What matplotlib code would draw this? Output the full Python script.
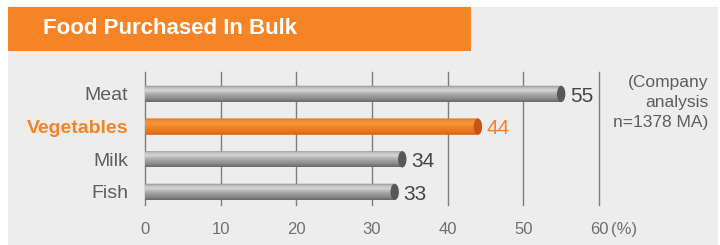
import numpy as np
import matplotlib
matplotlib.use("Agg")
import matplotlib.pyplot as plt
from matplotlib.colors import LinearSegmentedColormap
from matplotlib.patches import Rectangle, Ellipse, PathPatch
from matplotlib.path import Path

plt.rcParams['font.family'] = ['Liberation Sans', 'DejaVu Sans']

# ---- data ----
title = "Food Purchased In Bulk"
categories = ["Meat", "Vegetables", "Milk", "Fish"]
values = [55, 44, 34, 33]
highlight = [False, True, False, False]
xticks = [0, 10, 20, 30, 40, 50, 60]
xtick_labels = ["0", "10", "20", "30", "40", "50", "60"]
unit_label = "(%)"
note = "(Company\nanalysis\nn=1378 MA)"

# ---- styles ----
W, H = 720, 245
ORANGE = "#f58426"
PANEL = "#ededed"
GRAY_TXT = "#5e5e5e"
VAL_TXT = "#454545"
TICK_TXT = "#707070"
GRID = "#7e7e7e"

gray_cmap = LinearSegmentedColormap.from_list("g", [
    (0.0, "#7a7a7a"), (0.12, "#b8b8b8"), (0.3, "#d6d6d6"),
    (0.55, "#a9a9a9"), (0.8, "#8c8c8c"), (1.0, "#686868")])
orange_cmap = LinearSegmentedColormap.from_list("o", [
    (0.0, "#dd6a18"), (0.12, "#f08a30"), (0.3, "#f5963c"),
    (0.55, "#f08224"), (0.8, "#e8761c"), (1.0, "#d06014")])
GRAY_CAP = "#58585a"
ORANGE_CAP = "#c9521a"

fig = plt.figure(figsize=(W / 100, H / 100), dpi=100)
fig.patch.set_facecolor("white")

# panel and header
fig.patches.append(Rectangle((8 / W, 0), (718 - 8) / W, (H - 7) / H,
                             transform=fig.transFigure, facecolor=PANEL,
                             edgecolor="none", zorder=-3))
fig.patches.append(Rectangle((8 / W, (H - 51) / H), (471 - 8) / W, 44 / H,
                             transform=fig.transFigure, facecolor=ORANGE,
                             edgecolor="none", zorder=-2))
fig.text(43 / W, (H - 29) / H, title, color="white", fontsize=16,
         fontweight="bold", va="center", ha="left")

# axes: x=0 at px 145, x=60 at px 599; top at 72, bottom at 205
ax = fig.add_axes([145 / W, (H - 205) / H, (599 - 145) / W, (205 - 72) / H])
ax.set_zorder(2)
ax.set_facecolor("none")
for s in ax.spines.values():
    s.set_visible(False)

n = len(categories)
ypos = np.arange(n)
bar_h = 0.5
px_per_unit = (599 - 145) / 60.0
rx = 4.2 / px_per_unit

for xt in xticks:
    ax.axvline(xt, color=GRID, linewidth=1.0, zorder=1, clip_on=False)

grad = np.linspace(0, 1, 64).reshape(-1, 1)
for i, (v, hl) in enumerate(zip(values, highlight)):
    yc = ypos[i]
    t = np.linspace(np.pi / 2, 3 * np.pi / 2, 30)
    xs = list(rx * np.cos(t)) + [v, v]
    ys = list(yc - (bar_h / 2) * np.sin(t)) + [yc + bar_h / 2, yc - bar_h / 2]
    verts = list(zip(xs, ys)) + [(xs[0], ys[0])]
    codes = [Path.MOVETO] + [Path.LINETO] * (len(verts) - 2) + [Path.CLOSEPOLY]
    clip = PathPatch(Path(verts, codes), facecolor="none", edgecolor="none",
                     transform=ax.transData)
    ax.add_patch(clip)
    im = ax.imshow(grad, extent=[-rx, v, yc + bar_h / 2, yc - bar_h / 2],
                   origin="upper", aspect="auto",
                   cmap=orange_cmap if hl else gray_cmap, zorder=3,
                   interpolation="bilinear")
    im.set_clip_path(clip)
    ax.add_patch(Ellipse((v, yc), 2 * rx, bar_h,
                         facecolor=ORANGE_CAP if hl else GRAY_CAP,
                         edgecolor="none", zorder=4))
    ax.annotate(str(v), xy=(v, yc), xytext=(6.5, -1.5), textcoords="offset points",
                ha="left", va="center", fontsize=15,
                color=ORANGE if hl else VAL_TXT, zorder=5)

ax.set_xlim(0, 60)
ax.set_ylim(3.4, -0.673)
ax.set_xticks(xticks)
ax.set_xticklabels(xtick_labels)
ax.set_yticks(ypos)
ax.set_yticklabels(categories)
ax.tick_params(axis="x", length=0, pad=12.5, labelsize=12, labelcolor=TICK_TXT)
ax.tick_params(axis="y", length=0, pad=12, labelsize=14)
for lbl, hl in zip(ax.get_yticklabels(), highlight):
    lbl.set_color(ORANGE if hl else GRAY_TXT)
    lbl.set_fontweight("bold" if hl else "normal")

ax.annotate(unit_label, xy=(60, 3.4), xytext=(9, -12.5), textcoords="offset points",
            ha="left", va="top", fontsize=12, color=TICK_TXT,
            annotation_clip=False)

fig.text(708 / W, (H - 75) / H, note, ha="right", va="top", fontsize=12.5,
         color=GRAY_TXT, multialignment="right", linespacing=1.4)

fig.savefig("out.png", dpi=100, facecolor=fig.get_facecolor())
